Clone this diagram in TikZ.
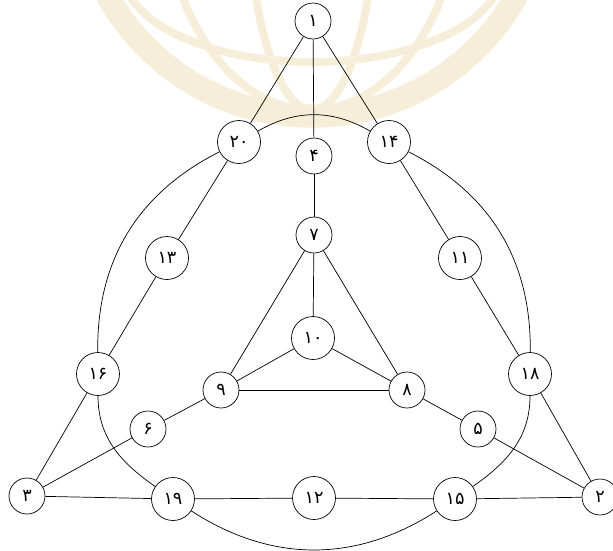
\documentclass[tikz,border=0pt]{standalone}
\usepackage{fontspec}
\newfontfamily\arabicfont[Script=Arabic]{DejaVu Sans}
\usepackage{xcolor}
\definecolor{markbeige}{RGB}{247, 238, 218}

\begin{document}
\begin{tikzpicture}[x=0.03cm, y=0.03cm, line width=0.6pt,
  vtx/.style={draw, circle, fill=white, inner sep=0pt, minimum size=1.08cm,
    font=\arabicfont\fontsize{15}{15}\selectfont},
  vtxw/.style={vtx, minimum size=1.29cm}]

  \useasboundingbox (0, 0) rectangle (613, -550);

  % --- Faint watermark behind the graph ---
  \begin{scope}
    \clip (0, 0) rectangle (613, -550);
    \draw[markbeige, line width=0.7cm] (312, 118) circle (234);
    \clip (312, 118) circle (228);
    \draw[markbeige, line width=0.24cm] (312, 118) ellipse (150 and 228);
    \draw[markbeige, line width=0.24cm] (312, 118) ellipse (65 and 228);
    \draw[markbeige, line width=0.24cm] (312, 30) ellipse (190 and 92);
  \end{scope}

  % --- Vertices ---
  \node[vtx]  (n1)  at (313, -21)  {۱};
  \node[vtxw] (n20) at (239, -142) {۲۰};
  \node[vtx]  (n4)  at (314, -156) {۴};
  \node[vtxw] (n14) at (389, -142) {۱۴};
  \node[vtxw] (n13) at (167, -258) {۱۳};
  \node[vtxw] (n11) at (460, -258) {۱۱};
  \node[vtx]  (n7)  at (314, -235) {۷};
  \node[vtxw] (n10) at (313, -338) {۱۰};
  \node[vtxw] (n16) at (98, -374)  {۱۶};
  \node[vtx]  (n9)  at (221, -390) {۹};
  \node[vtx]  (n8)  at (407, -390) {۸};
  \node[vtxw] (n18) at (530, -374) {۱۸};
  \node[vtx]  (n6)  at (148, -429) {۶};
  \node[vtx]  (n5)  at (478, -429) {۵};
  \node[vtx]  (n3)  at (27, -496)  {۳};
  \node[vtxw] (n19) at (173, -499) {۱۹};
  \node[vtxw] (n12) at (314, -498) {۱۲};
  \node[vtxw] (n15) at (455, -499) {۱۵};
  \node[vtx]  (n2)  at (600, -497) {۲};

  % --- Top triangle ---
  \draw (n1) -- (n20);
  \draw (n1) -- (n4);
  \draw (n1) -- (n14);
  \draw (n20) to[bend left=30] (n14);

  % --- Outer ring ---
  \draw (n20) to[bend right=32] (n16);
  \draw (n14) to[bend left=32] (n18);
  \draw (n16) to[out=-90, in=145] (n19);
  \draw (n18) to[out=-90, in=35] (n15);
  \draw (n19) to[bend right=33] (n15);

  % --- Spokes ---
  \draw (n20) -- (n13) -- (n16);
  \draw (n14) -- (n11) -- (n18);
  \draw (n19) -- (n12) -- (n15);

  % --- Corners ---
  \draw (n16) -- (n3);
  \draw (n3) -- (n19);
  \draw (n3) -- (n6) -- (n9);
  \draw (n18) -- (n2);
  \draw (n15) -- (n2);
  \draw (n2) -- (n5) -- (n8);

  % --- Inner tetrahedron ---
  \draw (n4) -- (n7);
  \draw (n7) -- (n10);
  \draw (n7) -- (n9);
  \draw (n7) -- (n8);
  \draw (n10) -- (n9);
  \draw (n10) -- (n8);
  \draw (n9) -- (n8);

\end{tikzpicture}
\end{document}
